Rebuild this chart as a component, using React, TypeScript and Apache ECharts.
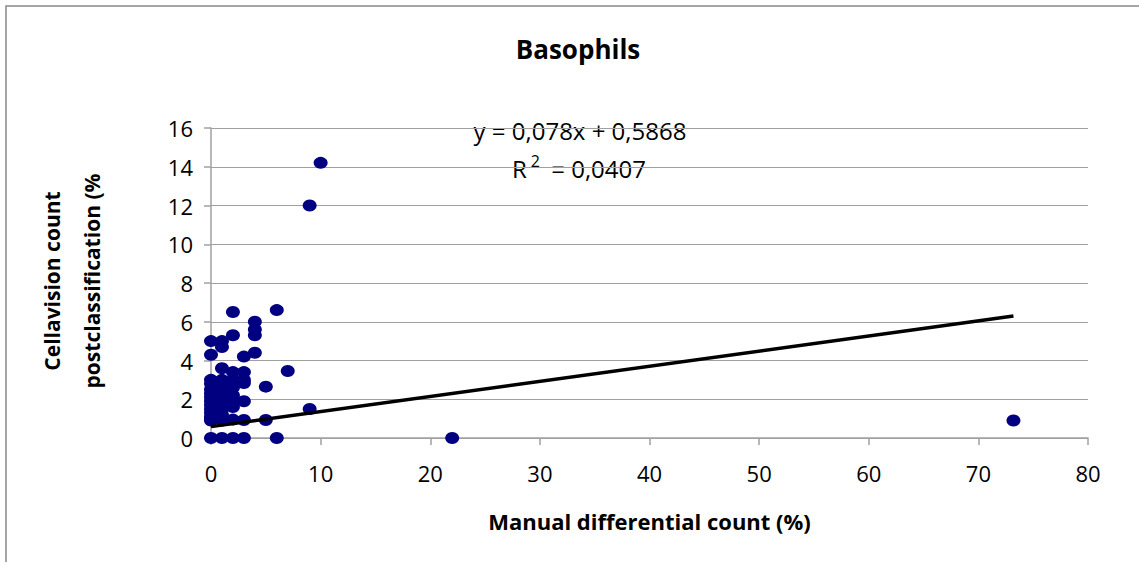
import React, { useEffect, useRef } from "react";
import * as echarts from "echarts";

const TITLE = "Basophils";
const X_TITLE = "Manual differential count (%)";
const Y_TITLE_LINES = ["Cellavision count", "postclassification (%"];
const EQUATION = "y = 0,078x + 0,5868";
const R2_VALUE = "0,0407";
const SLOPE = 0.078;
const INTERCEPT = 0.5868;

const manualX: number[] = [
  0, 0, 0, 0, 0, 0, 0, 0, 0, 0, 0, 0, 0, 0, 0,
  1, 1, 1, 1, 1, 1, 1, 1, 1, 1, 1, 1, 1, 1,
  2, 2, 2, 2, 2, 2, 2, 2, 2, 2, 2,
  3, 3, 3, 3, 3, 3, 3,
  4, 4, 4, 4,
  5, 5,
  6, 6,
  7,
  9, 9,
  10,
  22,
  73.2,
];
const cellavisionY: number[] = [
  0, 0.9, 1.0, 1.1, 1.3, 1.5, 1.7, 1.9, 2.1, 2.3, 2.5, 2.8, 3.0, 4.3, 5.0,
  0, 0.9, 1.0, 1.2, 1.5, 1.8, 2.0, 2.2, 2.5, 2.8, 3.0, 3.6, 4.7, 5.0,
  0, 0.95, 1.6, 1.95, 2.2, 2.6, 2.9, 3.0, 3.4, 5.3, 6.5,
  0, 0.93, 1.9, 2.84, 3.4, 4.2, 3.0,
  4.4, 5.3, 5.6, 6.0,
  0.93, 2.65,
  0, 6.6,
  3.46,
  1.5, 12.0,
  14.2,
  0,
  0.9,
];

const X_MIN = 0, X_MAX = 80, X_STEP = 10;
const Y_MIN = 0, Y_MAX = 16, Y_STEP = 2;

const FONT = "'Open Sans', 'Liberation Sans', sans-serif";

export default function App() {
  const ref = useRef<HTMLDivElement>(null);
  useEffect(() => {
    if (!ref.current) return;
    const chart = echarts.init(ref.current, null, { renderer: "svg" });
    const points = manualX.map((x, i) => [x, cellavisionY[i]]);
    const xMaxData = Math.max(...manualX);
    const xMinData = Math.min(...manualX);
    const trend = [
      [xMinData, INTERCEPT + SLOPE * xMinData],
      [xMaxData, INTERCEPT + SLOPE * xMaxData],
    ];
    chart.setOption({
      animation: false,
      backgroundColor: "#ffffff",
      textStyle: { fontFamily: FONT },
      title: {
        text: TITLE,
        left: 573,
        textAlign: "center",
        top: 31,
        textStyle: { fontFamily: FONT, fontSize: 26, fontWeight: "bold", color: "#000" },
      },
      grid: { left: 211, right: 51, top: 128, bottom: 124 },
      xAxis: {
        type: "value",
        min: X_MIN,
        max: X_MAX,
        interval: X_STEP,
        name: X_TITLE,
        nameLocation: "middle",
        nameGap: 72,
        nameTextStyle: { fontFamily: FONT, fontSize: 22, fontWeight: "bold", color: "#000" },
        axisLine: { show: true, lineStyle: { color: "#a0a0a0", width: 1.5 } },
        axisTick: { show: true, inside: false, length: 7, lineStyle: { color: "#a0a0a0", width: 1.5 } },
        axisLabel: { margin: 24, fontFamily: FONT, fontSize: 22, color: "#000" },
        splitLine: { show: false },
      },
      yAxis: {
        type: "value",
        min: Y_MIN,
        max: Y_MAX,
        interval: Y_STEP,
        axisLine: { show: true, lineStyle: { color: "#a0a0a0", width: 1.5 } },
        axisTick: { show: true, inside: false, length: 7, lineStyle: { color: "#a0a0a0", width: 1.5 } },
        axisLabel: { margin: 18, fontFamily: FONT, fontSize: 22, color: "#000" },
        splitLine: { show: true, lineStyle: { color: "#a0a0a0", width: 1.2 } },
      },
      series: [
        {
          type: "scatter",
          data: points,
          symbol: "circle",
          symbolSize: [14, 12],
          itemStyle: { color: "#000080", opacity: 1 },
          z: 2,
        },
        {
          type: "line",
          data: trend,
          showSymbol: false,
          symbol: "none",
          lineStyle: { color: "#000000", width: 3.5 },
          z: 3,
        },
      ],
      graphic: [
        {
          type: "rect",
          shape: { x: 6, y: 6, width: 1200, height: 700 },
          style: { fill: "none", stroke: "#888888", lineWidth: 1.5 },
          silent: true,
          z: 100,
        },
        {
          type: "text",
          x: 52,
          y: 281,
          rotation: Math.PI / 2,
          style: {
            text: Y_TITLE_LINES[0],
            font: `bold 21px ${FONT}`,
            fill: "#000",
            align: "center",
            verticalAlign: "middle",
          },
        },
        {
          type: "text",
          x: 92,
          y: 281,
          rotation: Math.PI / 2,
          style: {
            text: Y_TITLE_LINES[1],
            font: `bold 21px ${FONT}`,
            fill: "#000",
            align: "center",
            verticalAlign: "middle",
          },
        },
        {
          type: "text",
          x: 580,
          y: 130,
          style: {
            text: EQUATION,
            font: `24px ${FONT}`,
            fill: "#000",
            align: "center",
            verticalAlign: "middle",
          },
        },
        {
          type: "text",
          x: 579,
          y: 168,
          style: {
            text: "R{sup|2} = " + R2_VALUE,
            font: `24px ${FONT}`,
            fill: "#000",
            align: "center",
            verticalAlign: "middle",
            rich: {
              sup: { fontSize: 16, fontFamily: FONT, verticalAlign: "top", padding: [0, 5, 14, 4], fill: "#000" },
            },
          },
        },
      ],
    });
    return () => chart.dispose();
  }, []);
  return (
    <div
      ref={ref}
      style={{ position: "absolute", left: 0, top: 0, width: 1139, height: 562 }}
    />
  );
}
